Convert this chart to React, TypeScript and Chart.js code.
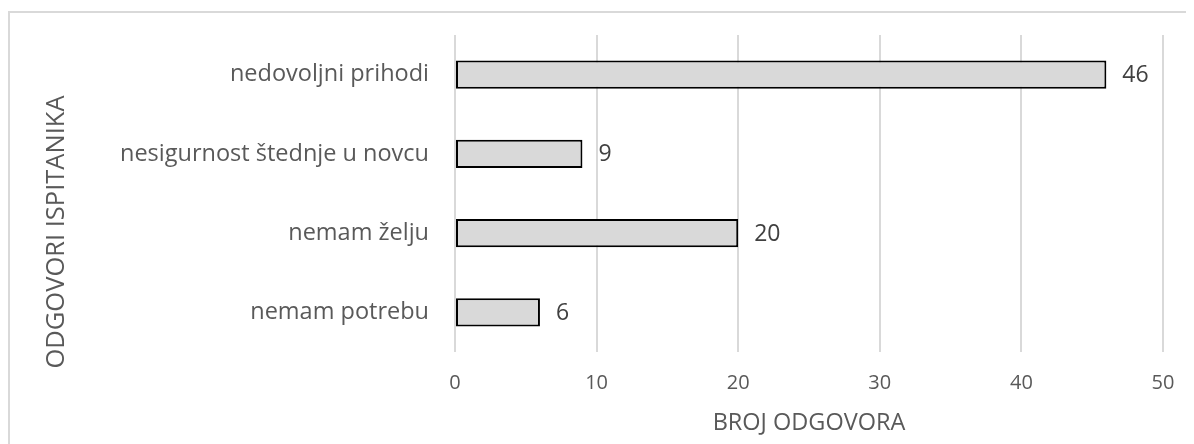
import React, { useEffect, useRef } from "react";
import { Chart, registerables } from "chart.js";

Chart.register(...registerables);

const categories = [
  "nedovoljni prihodi",
  "nesigurnost štednje u novcu",
  "nemam želju",
  "nemam potrebu",
];
const values = [46, 9, 20, 6];
const xMin = 0;
const xMax = 50;
const xStep = 10;
const xTitle = "BROJ ODGOVORA";
const yTitle = "ODGOVORI ISPITANIKA";

const FONT = "'Open Sans', sans-serif";
const TEXT = "#595959";

const valueLabels = {
  id: "valueLabels",
  afterDatasetsDraw(chart: any) {
    const ctx = chart.ctx;
    const meta = chart.getDatasetMeta(0);
    ctx.save();
    ctx.font = `23px ${FONT}`;
    ctx.fillStyle = "#404040";
    ctx.textAlign = "left";
    ctx.textBaseline = "middle";
    meta.data.forEach((bar: any, i: number) => {
      ctx.fillText(String(values[i]), bar.x + 16, bar.y + 1);
    });
    ctx.restore();
  },
};

const yTitlePlugin = {
  id: "yTitlePlugin",
  afterDraw(chart: any) {
    const ctx = chart.ctx;
    ctx.save();
    ctx.font = `25.5px ${FONT}`;
    ctx.fillStyle = TEXT;
    ctx.textAlign = "center";
    ctx.textBaseline = "middle";
    ctx.translate(47, 219);
    ctx.rotate(-Math.PI / 2);
    ctx.fillText(yTitle, 0, 0);
    ctx.restore();
  },
};

export default function App() {
  const ref = useRef<HTMLCanvasElement | null>(null);
  useEffect(() => {
    document.body.style.overflow = "hidden";
    if (!ref.current) return;
    const chart = new Chart(ref.current, {
      type: "bar",
      data: {
        labels: categories,
        datasets: [
          {
            data: values,
            backgroundColor: "#d9d9d9",
            borderColor: "#000000",
            borderWidth: 2,
            borderSkipped: false,
            categoryPercentage: 0.355,
            barPercentage: 1,
          },
        ],
      },
      options: {
        indexAxis: "y",
        animation: false,
        responsive: false,
        maintainAspectRatio: false,
        layout: { padding: { top: 22, right: 31, bottom: 0, left: 0 } },
        plugins: {
          legend: { display: false },
          tooltip: { enabled: false },
        },
        scales: {
          x: {
            min: xMin,
            max: xMax,
            ticks: {
              stepSize: xStep,
              color: TEXT,
              font: { family: FONT, size: 20 },
              padding: 19,
            },
            grid: { color: "#d9d9d9", lineWidth: 2, drawTicks: false },
            border: { display: false },
            title: {
              display: true,
              text: xTitle,
              color: TEXT,
              font: { family: FONT, size: 23.5 },
              padding: { top: 0, bottom: 9 },
            },
            afterFit(scale: any) {
              scale.height = 94;
              scale.paddingLeft = 0;
              scale.paddingRight = 0;
            },
          },
          y: {
            ticks: {
              color: TEXT,
              font: { family: FONT, size: 23.5 },
              padding: 26,
            },
            grid: { display: false, drawTicks: false },
            border: { display: false },
            afterFit(scale: any) {
              scale.width = 445;
              scale.paddingTop = 0;
              scale.paddingBottom = 0;
            },
          },
        },
      },
      plugins: [valueLabels, yTitlePlugin],
    });
    return () => chart.destroy();
  }, []);
  return (
    <div
      style={{
        marginTop: 3,
        borderTop: "2px solid #d9d9d9",
        borderLeft: "2px solid #d9d9d9",
        width: 1184,
        height: 440,
        overflow: "hidden",
        background: "#fff",
      }}
    >
      <canvas ref={ref} width={1184} height={433} style={{ display: "block" }} />
    </div>
  );
}
